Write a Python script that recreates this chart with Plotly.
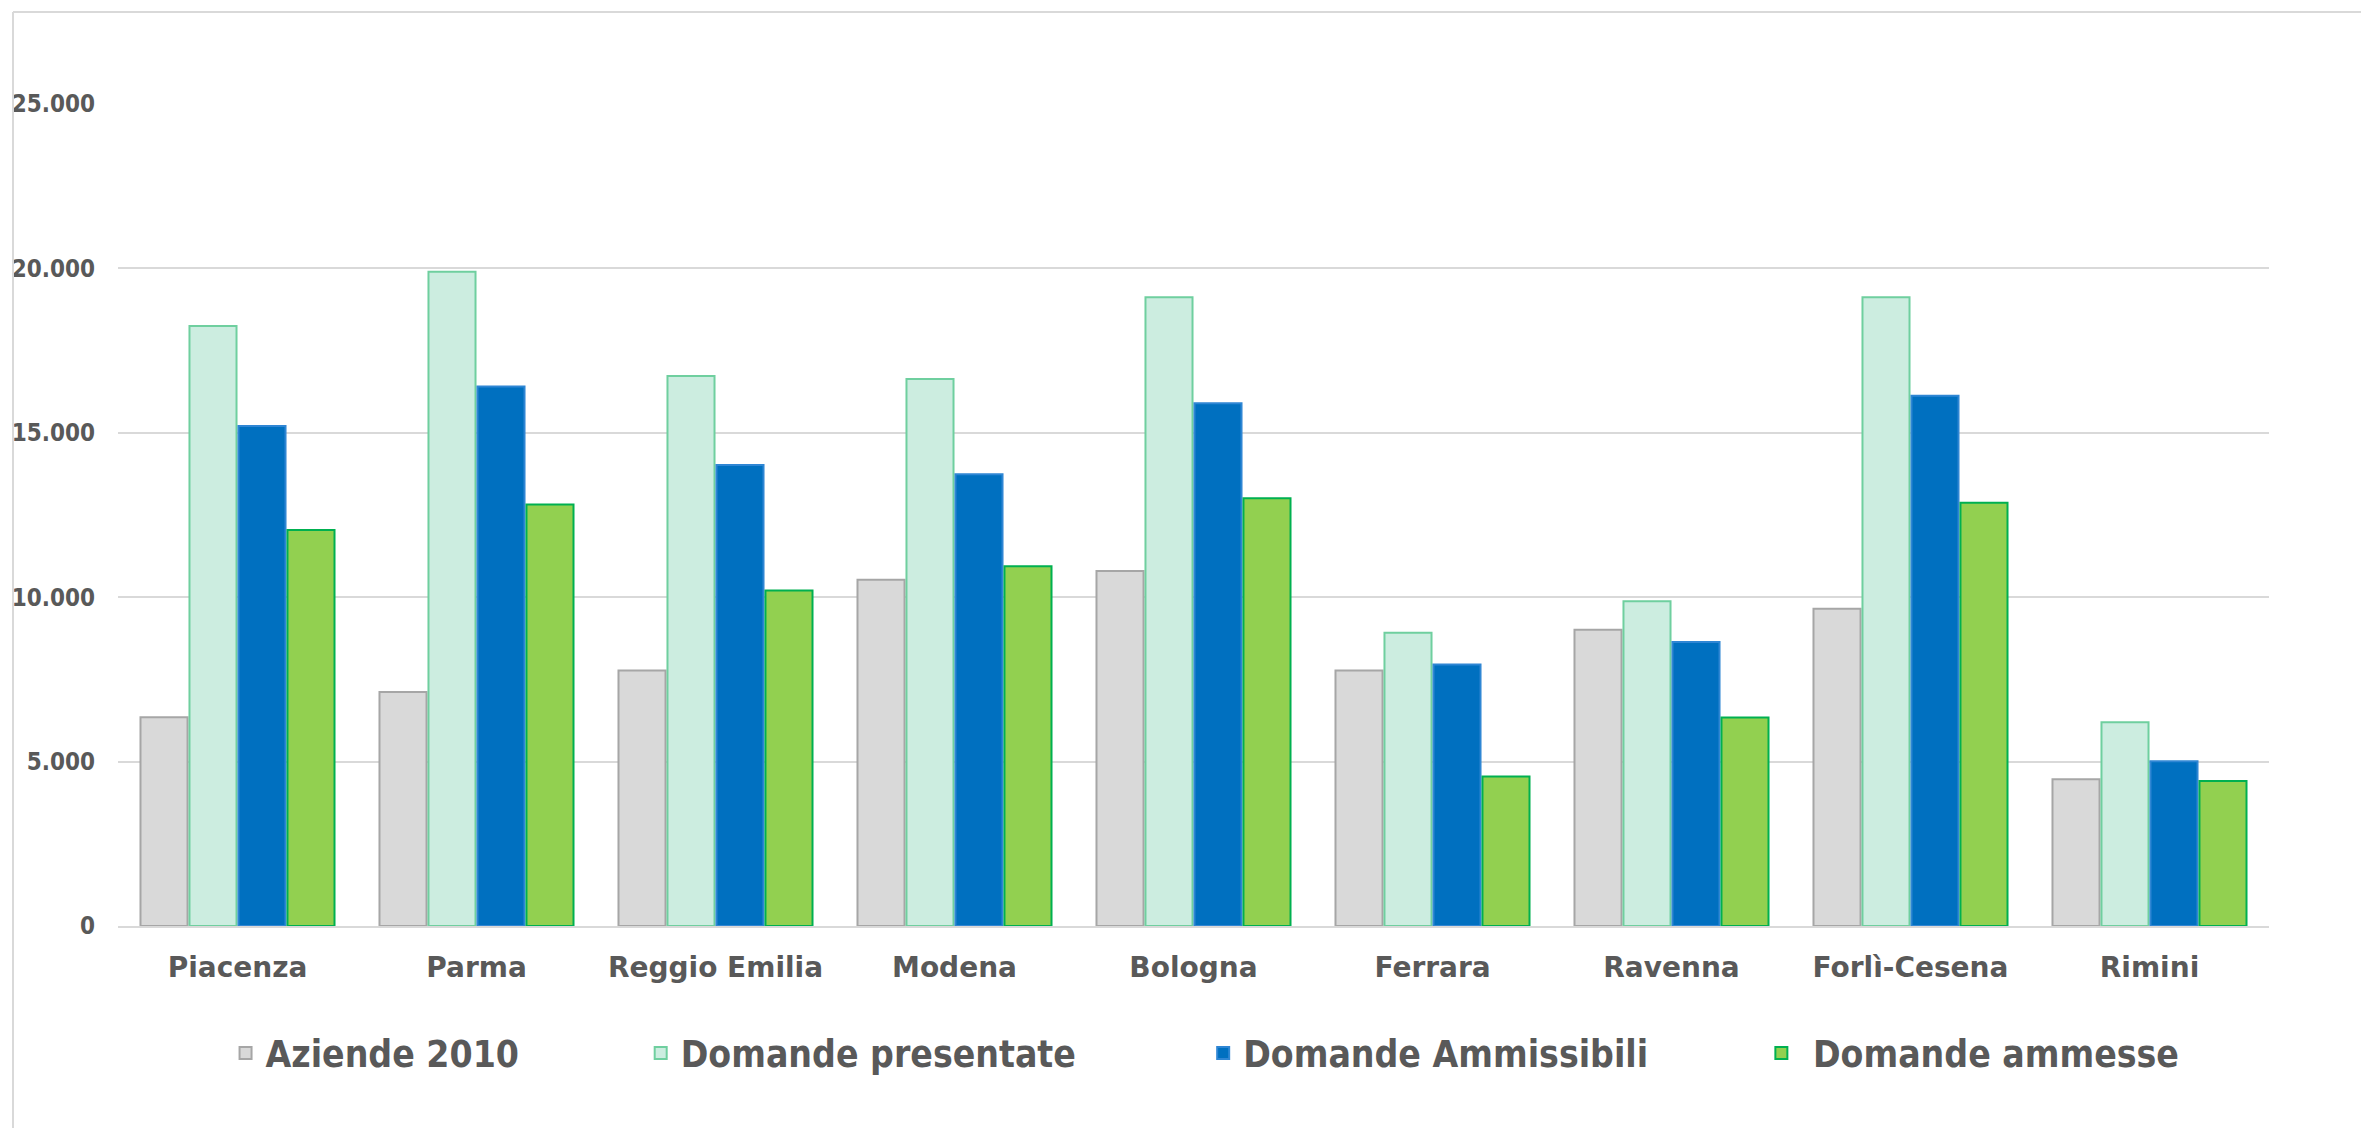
import plotly.graph_objects as go

province = ["Piacenza", "Parma", "Reggio Emilia", "Modena", "Bologna",
            "Ferrara", "Ravenna", "Forlì-Cesena", "Rimini"]

aziende_2010 = [6350, 7120, 7770, 10530, 10800, 7770, 9010, 9650, 4460]
domande_presentate = [18250, 19900, 16730, 16640, 19120, 8920, 9880, 19120, 6200]
domande_ammissibili = [15210, 16410, 14020, 13740, 15900, 7950, 8640, 16130, 5010]
domande_ammesse = [12040, 12820, 10200, 10940, 13010, 4550, 6340, 12870, 4410]

y_ticks = [0, 5000, 10000, 15000, 20000, 25000]
y_labels = ["0", "5.000", "10.000", "15.000", "20.000", "25.000"]

series = [
    ("Aziende 2010", aziende_2010, "#d9d9d9", "#a6a6a6", "legend", 0.050),
    ("Domande presentate", domande_presentate, "#ccede0", "#6fcf9f", "legend2", 0.243),
    ("Domande Ammissibili", domande_ammissibili, "#0070c0", "#2f86d4", "legend3", 0.5045),
    ("\u00a0Domande ammesse", domande_ammesse, "#92d050", "#00b050", "legend4", 0.764),
]

grey_text = "#595959"
grid = "#d9d9d9"

# page has an 8px body margin, so the figure is 8px smaller than the window
W, H = 2361, 1120
ML, MR, MT, MB = 110, 100, 96, 202
PW, PH = W - ML - MR, H - MT - MB

fig = go.Figure()
legends = {}
for name, vals, fill, edge, leg, lx in series:
    fig.add_trace(go.Bar(
        x=province, y=vals, name=name,
        marker=dict(color=fill, line=dict(color=edge, width=2)),
        legend=leg, showlegend=True,
    ))
    legends[leg] = dict(
        x=lx, xanchor="left", y=-0.155, yanchor="middle",
        orientation="h", bgcolor="rgba(0,0,0,0)",
        font=dict(family="DejaVu Sans Condensed", size=37, color=grey_text, weight="bold"),
    )

fig.update_layout(
    barmode="group",
    bargap=0.18,
    bargroupgap=0.04,
    width=W,
    height=H,
    showlegend=True,
    margin=dict(l=ML, r=MR, t=MT, b=MB, autoexpand=False),
    paper_bgcolor="white",
    plot_bgcolor="white",
    **legends,
)

fig.update_xaxes(
    showgrid=False,
    showline=True, linecolor=grid, linewidth=2,
    ticks="", ticklabelstandoff=15,
    tickfont=dict(family="DejaVu Sans", size=28, color=grey_text, weight="bold"),
)
fig.update_yaxes(
    range=[0, 25000],
    tickvals=y_ticks, ticktext=y_labels,
    showgrid=True, gridcolor=grid, gridwidth=2,
    zeroline=False, showline=False,
    ticks="", ticklabelstandoff=22,
    tickfont=dict(family="DejaVu Sans Condensed", size=24, color=grey_text, weight="bold"),
)

# chart frame (top and left edges visible)
top = 1 + (MT - 4) / PH
left = (5 - ML) / PW
fig.add_shape(type="line", xref="paper", yref="paper",
              x0=left, x1=1.2, y0=top, y1=top,
              line=dict(color=grid, width=2))
fig.add_shape(type="line", xref="paper", yref="paper",
              x0=left, x1=left, y0=top, y1=-0.3,
              line=dict(color=grid, width=2))

fig.write_html("out.html")
